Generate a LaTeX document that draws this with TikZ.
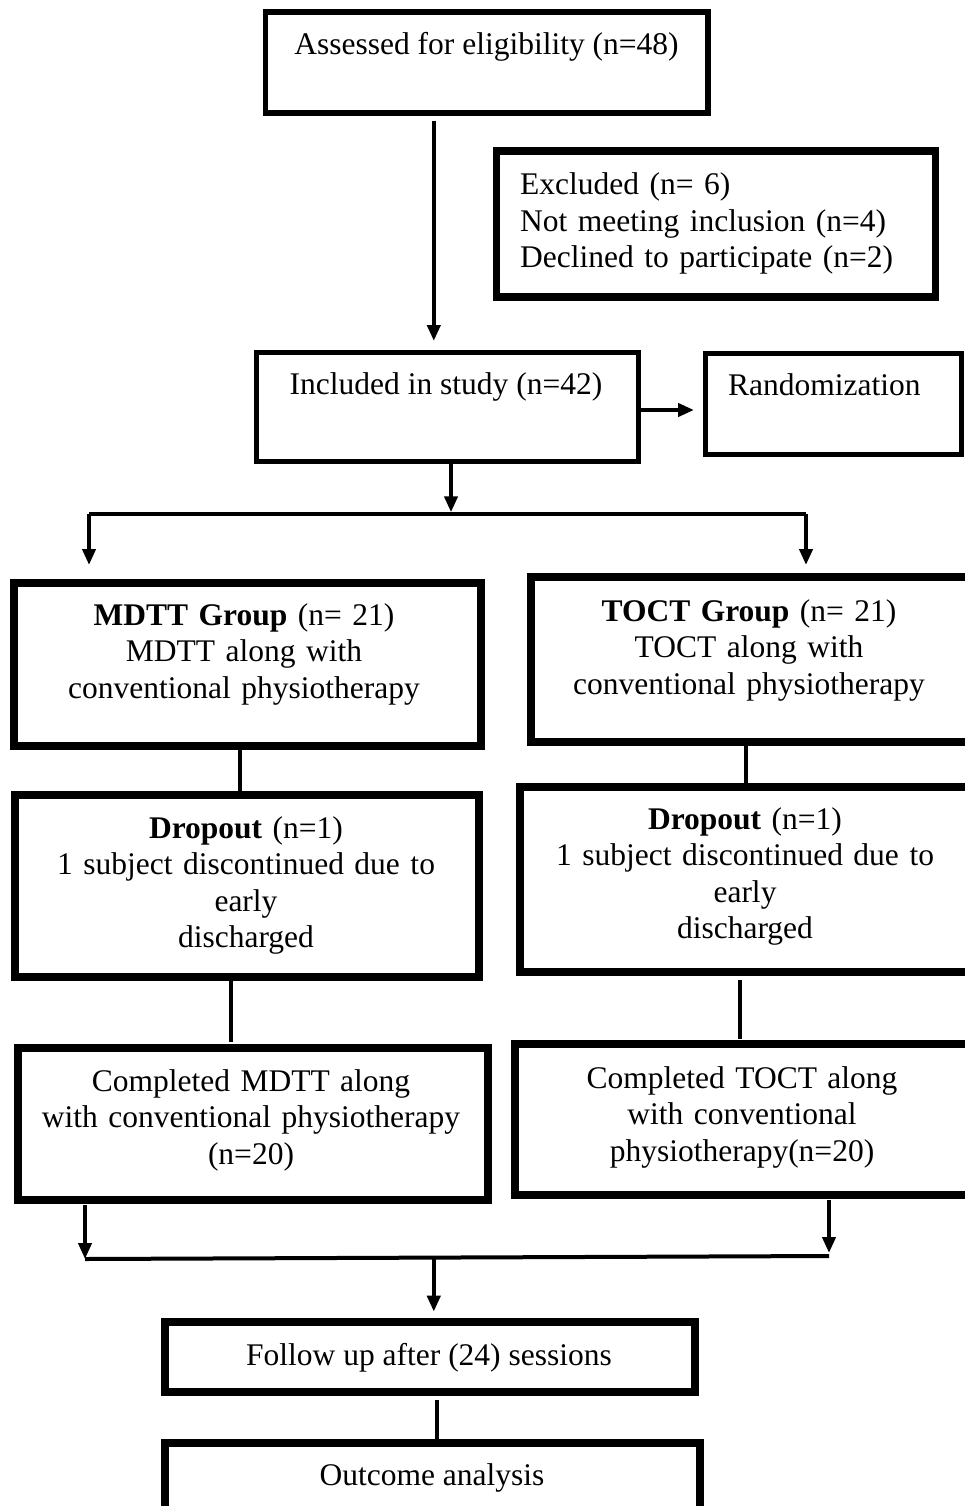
\documentclass[tikz,border=0pt]{standalone}
\usepackage{fontspec}
\setmainfont{Liberation Serif}
\usetikzlibrary{arrows.meta}
\begin{document}
\begin{tikzpicture}[x=1pt,y=-1pt,
  box/.style={draw, rectangle, inner sep=0pt},
  txt/.style={inner sep=0pt, font=\fontsize{31.5pt}{36.5pt}\selectfont},
  ctxt/.style={txt, text width=470pt, align=center, anchor=base},
  con/.style={line width=4pt},
  arr/.style={con, -{Triangle[length=16pt,width=13pt]}}]
\useasboundingbox (0,0) rectangle (965,1506);
\clip (0,0) rectangle (965,1506);
\fill[white] (0,0) rectangle (965,1506);

% boxes
\node[box, line width=5.5pt, minimum width=442.5pt, minimum height=101pt] (assess) at (486.75,62.5) {};
\node[box, line width=7.5pt, minimum width=438.8pt, minimum height=146pt] (excl) at (715.9,224) {};
\node[box, line width=5pt, minimum width=382.5pt, minimum height=108.5pt] (incl) at (447.25,406.75) {};
\node[box, line width=5.5pt, minimum width=256pt, minimum height=101pt] (rand) at (833.5,404.2) {};
\node[box, line width=8pt, minimum width=467pt, minimum height=163.5pt] (mdtt) at (247.5,664.25) {};
\node[box, line width=8.5pt, minimum width=444pt, minimum height=165pt] (toct) at (753,659.5) {};
\node[box, line width=8pt, minimum width=464.5pt, minimum height=182pt] (dropm) at (246.75,886) {};
\node[box, line width=8pt, minimum width=455.5pt, minimum height=185pt] (dropt) at (747.25,879.5) {};
\node[box, line width=8pt, minimum width=469.5pt, minimum height=152pt] (compm) at (252.75,1124) {};
\node[box, line width=8pt, minimum width=460pt, minimum height=151pt] (compt) at (745,1119.5) {};
\node[box, line width=8pt, minimum width=530pt, minimum height=70.5pt] (follow) at (430,1356.75) {};
\node[box, line width=8pt, minimum width=535pt, minimum height=87pt] (outcome) at (432.5,1486) {};

% texts
\node[txt, anchor=base] (assessT) at (486.5,55) {Assessed for eligibility (n=48)};
\node[txt, anchor=base west, text width=410pt, align=left] (exclT) at (520,195) {Excluded (n= 6)\\Not meeting inclusion (n=4)\\Declined to participate (n=2)};
\node[txt, anchor=base] (inclT) at (446,394) {Included in study (n=42)};
\node[txt, anchor=base west] (randT) at (728,395) {Randomization};
\node[ctxt] (mdttT) at (244,625) {\textbf{MDTT Group} (n= 21)\\MDTT along with\\conventional physiotherapy};
\node[ctxt] (toctT) at (749,621) {\textbf{TOCT Group} (n= 21)\\TOCT along with\\conventional physiotherapy};
\node[ctxt] (dropmT) at (246,838) {\textbf{Dropout} (n=1)\\1 subject discontinued due to\\early\\discharged};
\node[ctxt] (droptT) at (745,829) {\textbf{Dropout} (n=1)\\1 subject discontinued due to\\early\\discharged};
\node[ctxt] (compmT) at (251,1091) {Completed MDTT along\\with conventional physiotherapy\\(n=20)};
\node[ctxt] (comptT) at (742,1088) {Completed TOCT along\\with conventional\\physiotherapy(n=20)};
\node[txt, anchor=base] (followT) at (429,1365) {Follow up after (24) sessions};
\node[txt, anchor=base] (outT) at (432,1485) {Outcome analysis};

% connectors
\coordinate (xa) at (433.8,0);
\draw[arr, shorten <=5pt, shorten >=9pt] (assess.south -| xa) -- (incl.north -| xa);
\coordinate (yr) at (0,410);
\draw[arr, shorten >=8.7pt] (incl.east |- yr) -- (rand.west |- yr);
\coordinate (sp) at (451,514.3);
\coordinate (spl) at (89,514.3);
\coordinate (spr) at (806,514.3);
\draw[arr, shorten >=2pt] (incl.south -| sp) -- (sp);
\draw[con] (spl) -- (spr);
\draw[arr, shorten >=13.5pt] (spl) -- (spl |- mdtt.north);
\draw[arr, shorten >=7.7pt] (spr) -- (spr |- toct.north);
\coordinate (xm1) at (240,0);
\draw[con] (mdtt.south -| xm1) -- (dropm.north -| xm1);
\coordinate (xt1) at (745.7,0);
\draw[con] (toct.south -| xt1) -- (dropt.north -| xt1);
\coordinate (xm2) at (230.8,0);
\draw[con, shorten >=2pt] (dropm.south -| xm2) -- (compm.north -| xm2);
\coordinate (xt2) at (740.3,0);
\draw[con, shorten <=4pt, shorten >=1pt] (dropt.south -| xt2) -- (compt.north -| xt2);
\coordinate (jl) at (85,1259);
\coordinate (jr) at (829,1256);
\coordinate (jm) at (433.8,1258);
\draw[arr, shorten <=1pt] (compm.south -| jl) -- (jl);
\draw[arr, shorten <=1pt, shorten >=3pt] (compt.south -| jr) -- (jr);
\draw[con] (jl) -- (jr);
\draw[arr, shorten >=5.8pt] (jm) -- (jm |- follow.north);
\coordinate (xf) at (436.6,0);
\draw[con, shorten <=4pt] (follow.south -| xf) -- (outcome.north -| xf);
\end{tikzpicture}
\end{document}
